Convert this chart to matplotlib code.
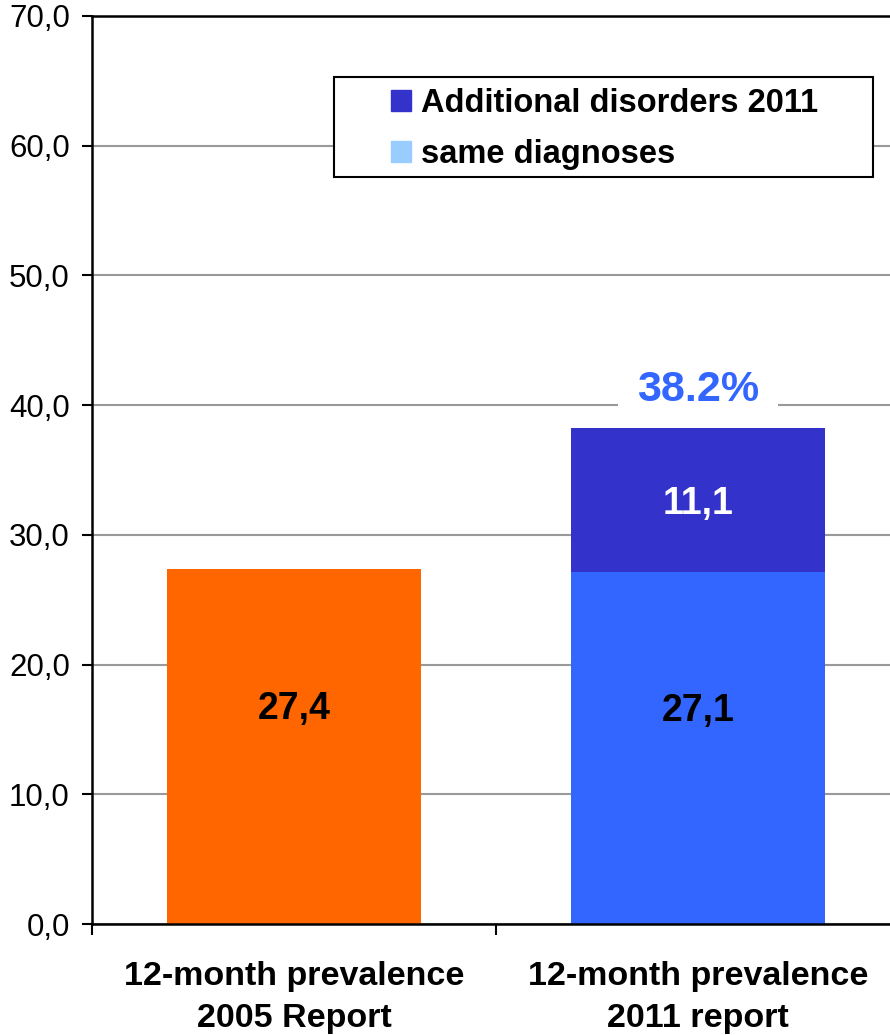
import matplotlib
matplotlib.use("Agg")
import matplotlib.pyplot as plt
from matplotlib.patches import Patch, Rectangle
from matplotlib.ticker import FuncFormatter

categories = ["12-month prevalence\n2005 Report", "12-month prevalence\n2011 report"]
same_diagnoses = [27.4, 27.1]
additional = [0.0, 11.1]
total_label = "38.2%"
legend_labels = ["Additional disorders 2011", "same diagnoses"]

ORANGE = "#FF6600"
BLUE = "#3366FF"
DARK = "#3333CC"
LIGHT = "#99CCFF"


def comma(v, pos):
    return f"{v:.1f}".replace(".", ",")


def main():
    plt.rcParams["font.family"] = ["Liberation Sans", "DejaVu Sans"]
    fig = plt.figure(figsize=(8.9, 10.35), dpi=100)
    W, H = 890, 1035
    ax = fig.add_axes([92 / W, (H - 924) / H, 808 / W, 908 / H])

    xs = [0.5, 1.5]
    colors = [ORANGE, BLUE]
    ax.bar(xs, same_diagnoses, width=0.63, color=colors, zorder=2)
    ax.bar(xs[1], additional[1], bottom=same_diagnoses[1], width=0.63,
           color=DARK, zorder=2)

    # value labels
    for x, v in zip(xs, same_diagnoses):
        ax.text(x, v * 0.605, comma(v, None), ha="center", va="center",
                fontsize=27, fontweight="bold", color="black", zorder=4)
    ax.text(xs[1], same_diagnoses[1] + additional[1] / 2 - 0.3,
            comma(additional[1], None),
            ha="center", va="center", fontsize=27, fontweight="bold",
            color="white", zorder=4)
    # white box hides the gridline, kept under the bars
    ax.annotate(total_label, (xs[1], same_diagnoses[1] + additional[1]),
                xytext=(0, 28), textcoords="offset points", ha="center",
                va="center", fontsize=31, fontweight="bold", color=BLUE,
                zorder=1.8,
                bbox=dict(facecolor="white", edgecolor="none", pad=14))

    ax.set_xlim(0, 2)
    ax.set_ylim(0, 70)
    ax.set_yticks(range(0, 71, 10))
    ax.yaxis.set_major_formatter(FuncFormatter(comma))
    ax.yaxis.grid(True, color="#999999", linewidth=1.5)
    ax.set_axisbelow(True)
    ax.tick_params(axis="y", length=7, width=1.5, pad=9, labelsize=22.5)

    ax.set_xticks(xs)
    ax.set_xticklabels(categories, fontsize=24.5, fontweight="bold",
                       linespacing=1.45)
    ax.set_xticks([0, 1, 2], minor=True)
    ax.tick_params(axis="x", which="major", length=0, pad=27)
    ax.tick_params(axis="x", which="minor", length=8, width=1.5)

    for side in ["left", "bottom", "top"]:
        ax.spines[side].set_linewidth(1.8)
        ax.spines[side].set_color("black")
    ax.spines["right"].set_visible(False)

    # legend box
    box = Rectangle((334 / W, 1 - 177 / H), (873 - 334) / W, 100 / H,
                    transform=fig.transFigure, facecolor="white",
                    edgecolor="black", linewidth=1.5, zorder=3, clip_on=False)
    ax.add_patch(box)
    handles = [Patch(color=DARK), Patch(color=LIGHT)]
    ax.legend(handles, legend_labels, loc="upper left",
              bbox_to_anchor=(391 / W, 1 - 88 / H),
              bbox_transform=fig.transFigure, frameon=False,
              borderaxespad=0, borderpad=0, handlelength=0.62,
              handleheight=0.62, handletextpad=0.3, labelspacing=0.62,
              prop={"size": 23.5, "weight": "bold"})

    fig.savefig("out.png", dpi=100)


if __name__ == "__main__":
    main()
